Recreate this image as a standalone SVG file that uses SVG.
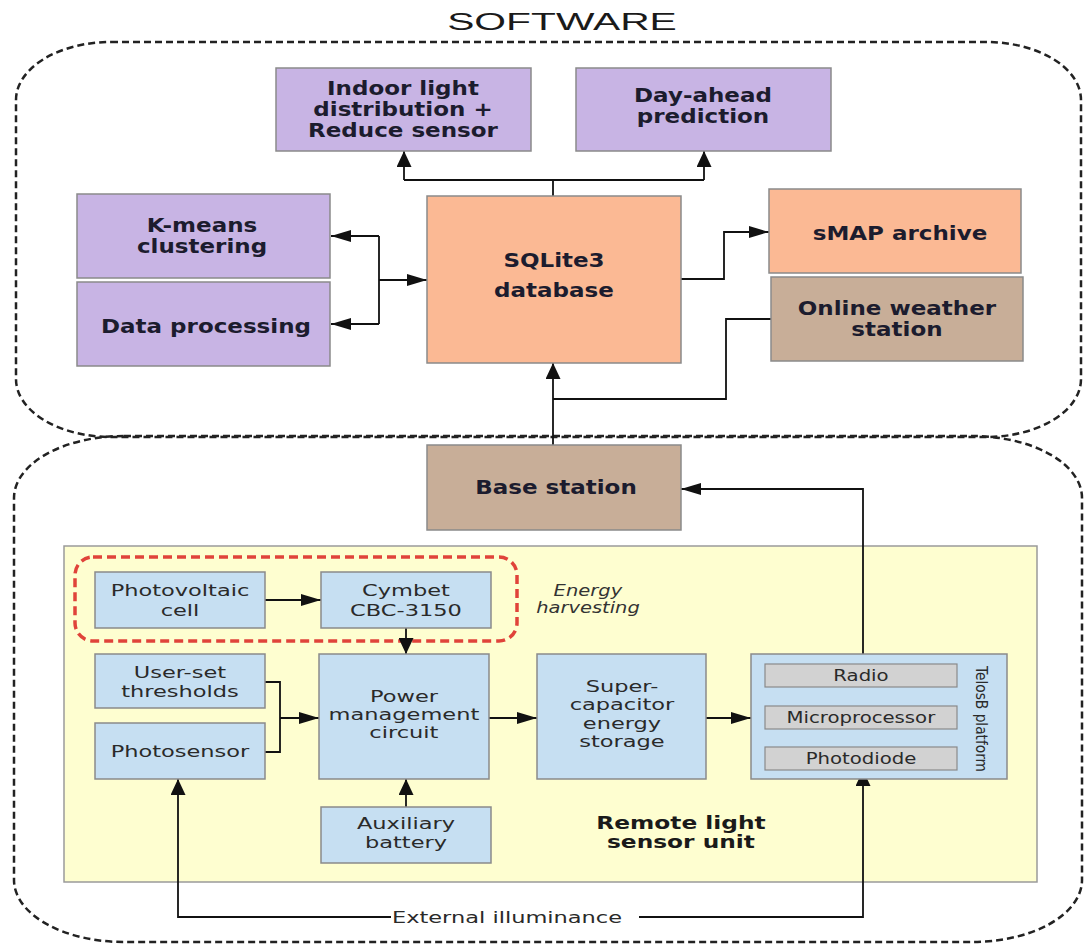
<svg xmlns="http://www.w3.org/2000/svg" width="1084" height="946" viewBox="0 0 1084 946">
<style>
  .sc{transform-box:fill-box;transform-origin:center;}
  .title{font-family:"Liberation Sans",Arial,sans-serif;font-size:24px;fill:#1a1a1a;text-anchor:middle;transform:scaleX(1.7);}
  .b{font-family:"DejaVu Sans",sans-serif;font-weight:bold;font-size:20px;fill:#1c1c2e;text-anchor:middle;transform:scaleX(1.15);}
  .n{font-family:"DejaVu Sans",sans-serif;font-size:15px;fill:#2a2a2a;text-anchor:middle;transform:scaleX(1.5);}
  .s{font-family:"DejaVu Sans",sans-serif;font-size:16px;fill:#2a2a2a;text-anchor:middle;transform:scaleX(1.23);}
  .i{font-family:"DejaVu Sans",sans-serif;font-style:italic;font-size:15px;fill:#333;text-anchor:middle;transform:scaleX(1.3);}
  .rb{font-family:"DejaVu Sans",sans-serif;font-weight:bold;font-size:17px;fill:#1a1a1a;text-anchor:middle;transform:scaleX(1.37);}
  .purple{fill:#c8b4e4;stroke:#8a8a8a;stroke-width:1.5;}
  .salmon{fill:#fbb994;stroke:#8a8a8a;stroke-width:1.5;}
  .tan{fill:#c8ae98;stroke:#8a8a8a;stroke-width:1.5;}
  .blue{fill:#c6dff2;stroke:#8a8a8a;stroke-width:1.5;}
  .gray{fill:#d2d2d2;stroke:#8a8a8a;stroke-width:1.2;}
  .region{fill:none;stroke:#222;stroke-width:2.5;stroke-dasharray:7 4;}
  .line{fill:none;stroke:#111;stroke-width:1.8;}
  .ah{marker-end:url(#ah);}
  .av{marker-end:url(#av);}
</style>
<defs>
  <marker id="ah" markerUnits="userSpaceOnUse" markerWidth="20" markerHeight="12" refX="20" refY="6" orient="auto">
    <path d="M0,0 L20,6 L0,12 z" fill="#111"/>
  </marker>
  <marker id="av" markerUnits="userSpaceOnUse" markerWidth="16" markerHeight="15" refX="16" refY="7.5" orient="auto">
    <path d="M0,0 L16,7.5 L0,15 z" fill="#111"/>
  </marker>
</defs>
<rect width="1084" height="946" fill="#ffffff"/>

<!-- regions -->
<g id="software-region">
  <rect class="region" x="16" y="42" width="1065" height="395" rx="95" ry="58"/>
  <text class="title sc" x="562" y="30">SOFTWARE</text>
</g>
<g id="hardware-region">
  <rect class="region" x="14" y="436" width="1068" height="506" rx="110" ry="62"/>
</g>
<g id="sensor-unit">
  <rect x="64" y="546" width="973" height="336" fill="#fefed0" stroke="#9a9a9a" stroke-width="1.5"/>
  <text class="rb sc" x="681" y="829">Remote light</text>
  <text class="rb sc" x="681" y="848">sensor unit</text>
</g>
<g id="energy-harvesting">
  <rect x="75" y="557" width="442" height="84" rx="18" ry="18" fill="none" stroke="#e0433a" stroke-width="3.5" stroke-dasharray="9 5"/>
  <text class="i sc" x="588" y="596">Energy</text>
  <text class="i sc" x="588" y="613">harvesting</text>
</g>

<!-- connectors -->
<g id="connectors">
  <path class="line" d="M553,196 V180 M404,180 H704"/>
  <path class="line av" d="M404,180 V151"/>
  <path class="line av" d="M704,180 V151"/>
  <path class="line" d="M379,236 V324"/>
  <path class="line ah" d="M379,236 H331"/>
  <path class="line ah" d="M379,324 H331"/>
  <path class="line ah" d="M379,280 H427"/>
  <path class="line ah" d="M681,279 H724 V232 H769"/>
  <path class="line" d="M771,319 H726 V399 H553"/>
  <path class="line av" d="M553,445 V363"/>
  <path class="line ah" d="M863,664 V489 H681"/>
  <path class="line ah" d="M265,600 H321"/>
  <path class="line av" d="M406,628 V654"/>
  <path class="line" d="M265,682 H280 V752 H265"/>
  <path class="line ah" d="M280,718 H319"/>
  <path class="line ah" d="M489,718 H537"/>
  <path class="line ah" d="M706,718 H751"/>
  <path class="line av" d="M863,706 V687"/>
  <path class="line av" d="M863,747 V729"/>
  <path class="line av" d="M406,807 V779"/>
  <path class="line av" d="M391,917 H178 V779"/>
  <path class="line av" d="M639,917 H863 V770"/>
  <text class="n sc" x="507" y="923">External illuminance</text>
</g>

<!-- software nodes -->
<g id="indoor-light">
  <rect class="purple" x="276" y="68" width="255" height="83"/>
  <text class="b sc" x="403" y="95">Indoor light</text>
  <text class="b sc" x="403" y="116">distribution +</text>
  <text class="b sc" x="403" y="137">Reduce sensor</text>
</g>
<g id="day-ahead">
  <rect class="purple" x="576" y="68" width="255" height="83"/>
  <text class="b sc" x="703" y="102">Day-ahead</text>
  <text class="b sc" x="703" y="123">prediction</text>
</g>
<g id="kmeans">
  <rect class="purple" x="77" y="194" width="253" height="84"/>
  <text class="b sc" x="202" y="232">K-means</text>
  <text class="b sc" x="202" y="253">clustering</text>
</g>
<g id="data-processing">
  <rect class="purple" x="77" y="282" width="253" height="84"/>
  <text class="b sc" x="206" y="333">Data processing</text>
</g>
<g id="sqlite">
  <rect class="salmon" x="427" y="196" width="254" height="167"/>
  <text class="b sc" x="554" y="267">SQLite3</text>
  <text class="b sc" x="554" y="297">database</text>
</g>
<g id="smap">
  <rect class="salmon" x="769" y="189" width="252" height="84"/>
  <text class="b sc" x="900" y="240">sMAP archive</text>
</g>
<g id="weather">
  <rect class="tan" x="771" y="277" width="252" height="84"/>
  <text class="b sc" x="897" y="315">Online weather</text>
  <text class="b sc" x="897" y="336">station</text>
</g>

<!-- hardware nodes -->
<g id="base-station">
  <rect class="tan" x="427" y="445" width="254" height="85"/>
  <text class="b sc" x="556" y="494">Base station</text>
</g>
<g id="photovoltaic">
  <rect class="blue" x="95" y="572" width="170" height="56"/>
  <text class="n sc" x="180" y="596">Photovoltaic</text>
  <text class="n sc" x="180" y="616">cell</text>
</g>
<g id="cymbet">
  <rect class="blue" x="321" y="572" width="170" height="56"/>
  <text class="n sc" x="406" y="596">Cymbet</text>
  <text class="n sc" x="406" y="616">CBC-3150</text>
</g>
<g id="user-thresholds">
  <rect class="blue" x="95" y="654" width="170" height="54"/>
  <text class="n sc" x="180" y="678">User-set</text>
  <text class="n sc" x="180" y="697">thresholds</text>
</g>
<g id="photosensor">
  <rect class="blue" x="95" y="723" width="170" height="56"/>
  <text class="n sc" x="180" y="757">Photosensor</text>
</g>
<g id="power-management">
  <rect class="blue" x="319" y="654" width="170" height="125"/>
  <text class="n sc" x="404" y="702">Power</text>
  <text class="n sc" x="404" y="720">management</text>
  <text class="n sc" x="404" y="738">circuit</text>
</g>
<g id="supercapacitor">
  <rect class="blue" x="537" y="654" width="169" height="125"/>
  <text class="n sc" x="622" y="692">Super-</text>
  <text class="n sc" x="622" y="710">capacitor</text>
  <text class="n sc" x="622" y="729">energy</text>
  <text class="n sc" x="622" y="747">storage</text>
</g>
<g id="auxiliary-battery">
  <rect class="blue" x="321" y="807" width="170" height="56"/>
  <text class="n sc" x="406" y="829">Auxiliary</text>
  <text class="n sc" x="406" y="848">battery</text>
</g>
<g id="telosb">
  <rect class="blue" x="751" y="654" width="256" height="125"/>
  <text x="0" y="0" transform="translate(976,719) rotate(90)" font-family="DejaVu Sans, sans-serif" font-size="16" fill="#2a2a2a" text-anchor="middle" textLength="106" lengthAdjust="spacingAndGlyphs">TelosB platform</text>
</g>
<g id="radio">
  <rect class="gray" x="765" y="664" width="192" height="23"/>
  <text class="s sc" x="861" y="681">Radio</text>
</g>
<g id="microprocessor">
  <rect class="gray" x="765" y="706" width="192" height="23"/>
  <text class="s sc" x="861" y="723">Microprocessor</text>
</g>
<g id="photodiode">
  <rect class="gray" x="765" y="747" width="192" height="23"/>
  <text class="s sc" x="861" y="764">Photodiode</text>
</g>
</svg>
